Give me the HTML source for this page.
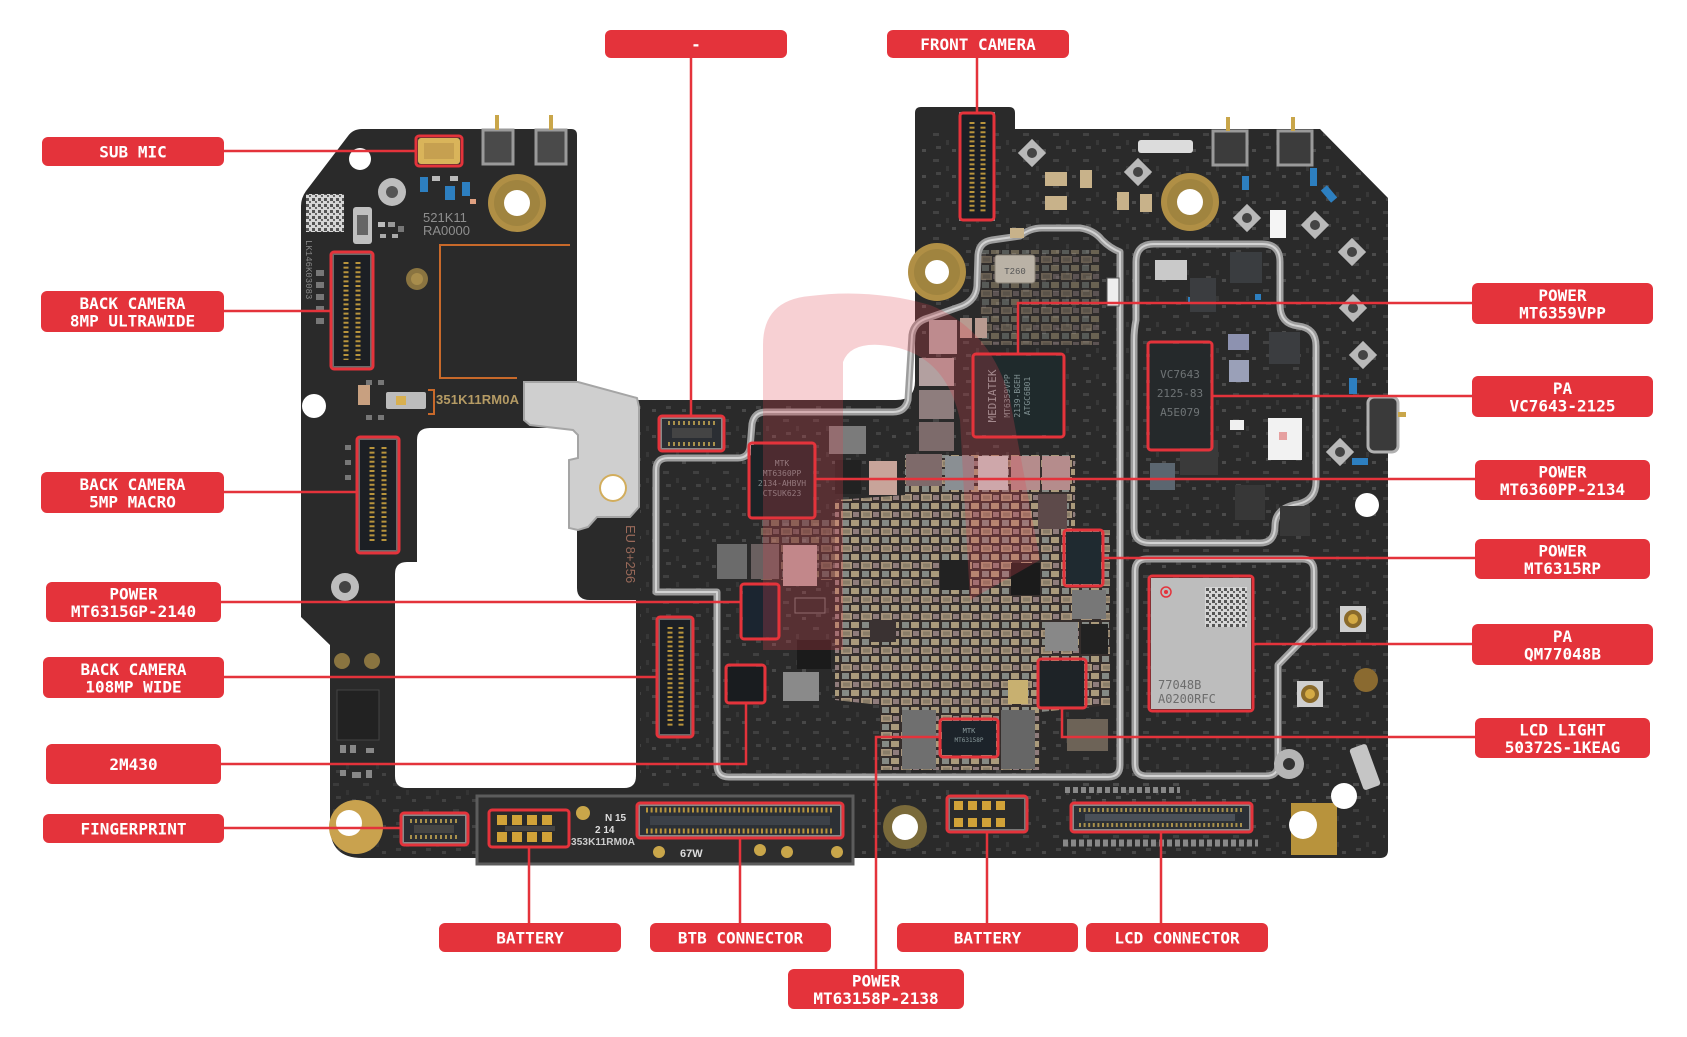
<!DOCTYPE html>
<html><head><meta charset="utf-8"><style>
html,body{margin:0;padding:0;background:#fff;}
svg{display:block;}
.lb{fill:#e4333b;}
.lt{font-family:"DejaVu Sans Mono","Liberation Mono",monospace;font-weight:bold;font-size:16px;fill:#fff;text-anchor:middle;}
.ln{stroke:#e4333b;stroke-width:2.5;fill:none;}
.bx{stroke:#e4333b;stroke-width:3;fill:none;}
.sh{fill:none;stroke:#9d9d9d;stroke-width:7;stroke-linejoin:round;}
.sh2{fill:none;stroke:#d2d2d2;stroke-width:2;stroke-linejoin:round;}
.ct{font-family:"DejaVu Sans Mono","Liberation Mono",monospace;}
</style></head><body>
<svg width="1687" height="1037" viewBox="0 0 1687 1037" xmlns="http://www.w3.org/2000/svg">
<defs>
<clipPath id="bc"><path d="M362 129 L571 129 Q577 129 577 135 L577 400 L896 400 Q915 400 915 381 L915 113 Q915 107 921 107 L1009 107 Q1015 107 1015 113 L1015 129 L1320 129 L1388 198 L1388 850 Q1388 858 1380 858 L853 858 L853 864 L476 864 L476 858 L362 858 Q330 858 330 826 L330 645 L301 617 L301 206 Q301 198 306 191 L348 136 Q353 129 362 129 Z"/></clipPath>
<pattern id="tx" patternUnits="userSpaceOnUse" width="30" height="26">
<rect x="3" y="3" width="6" height="3" fill="#555"/><rect x="16" y="10" width="3" height="5" fill="#444"/><rect x="6" y="16" width="5" height="3" fill="#5a5a5a"/><rect x="22" y="19" width="4" height="3" fill="#666"/>
</pattern>
<pattern id="ps" patternUnits="userSpaceOnUse" width="20" height="17">
<rect width="20" height="17" fill="#362e2c"/><rect x="1" y="1" width="11" height="7" fill="#b5a084"/><rect x="3" y="2.5" width="7" height="4" fill="#948670"/><rect x="13" y="2" width="6" height="5" fill="#9a8585"/><rect x="2" y="10" width="7" height="6" fill="#8f948e"/><rect x="11" y="10" width="8" height="6" fill="#b8a684"/>
</pattern>
<pattern id="qr" patternUnits="userSpaceOnUse" width="6" height="6">
<rect width="6" height="6" fill="#d6d6d6"/><rect x="0" y="0" width="3" height="3" fill="#555"/><rect x="3" y="3" width="2" height="2" fill="#666"/>
</pattern>
</defs>
<rect width="1687" height="1037" fill="#fff"/>

<!-- BOARD -->
<path d="M362 129 L571 129 Q577 129 577 135 L577 400 L896 400 Q915 400 915 381 L915 113 Q915 107 921 107 L1009 107 Q1015 107 1015 113 L1015 129 L1320 129 L1388 198 L1388 850 Q1388 858 1380 858 L853 858 L853 864 L476 864 L476 858 L362 858 Q330 858 330 826 L330 645 L301 617 L301 206 Q301 198 306 191 L348 136 Q353 129 362 129 Z" fill="#2a2a2a"/>

<g clip-path="url(#bc)">
<rect x="920" y="130" width="468" height="670" fill="url(#tx)" opacity="0.55"/>
<rect x="640" y="405" width="280" height="385" fill="url(#tx)" opacity="0.5"/>
<rect x="300" y="760" width="180" height="95" fill="url(#tx)" opacity="0.4"/>
<rect x="860" y="780" width="525" height="75" fill="url(#tx)" opacity="0.5"/>
</g>

<!-- right notch metal -->
<rect x="1368" y="397" width="30" height="55" rx="6" fill="#3a3a3a" stroke="#b0b0b0" stroke-width="3"/>
<rect x="1398" y="412" width="8" height="5" fill="#c9a64a"/>

<!-- cutout -->
<path d="M430 428 L577 428 L577 588 Q577 600 590 600 L636 600 L636 776 Q636 788 624 788 L407 788 Q395 788 395 776 L395 574 Q395 562 407 562 L417 562 L417 440 Q417 428 430 428 Z" fill="#fff"/>

<!-- dense passives -->
<path d="M835 500 L905 495 L905 455 L1075 455 L1075 530 L1110 530 L1110 705 L1040 712 L1040 770 L880 770 L880 705 L835 700 Z" fill="url(#ps)" opacity="0.9"/>
<rect x="980" y="250" width="120" height="95" fill="url(#ps)" opacity="0.45"/>
<rect x="760" y="520" width="80" height="60" fill="url(#ps)" opacity="0.5"/>

<!-- shield frames -->
<path class="sh" d="M656 592 L656 470 Q656 458 668 458 L738 458 Q748 458 750 448 L752 424 Q754 412 766 412 L893 412 Q905 412 908 400 L912 335 Q914 322 928 318 L962 306 Q976 300 977 286 L978 255 Q979 242 992 240 L1020 236 Q1030 228 1042 228 L1080 228 Q1094 230 1102 240 Q1110 248 1120 252 L1120 765 Q1120 777 1108 777 L729 777 Q717 777 717 765 L717 592 Z"/>
<path class="sh2" d="M656 592 L656 470 Q656 458 668 458 L738 458 Q748 458 750 448 L752 424 Q754 412 766 412 L893 412 Q905 412 908 400 L912 335 Q914 322 928 318 L962 306 Q976 300 977 286 L978 255 Q979 242 992 240 L1020 236 Q1030 228 1042 228 L1080 228 Q1094 230 1102 240 Q1110 248 1120 252 L1120 765 Q1120 777 1108 777 L729 777 Q717 777 717 765 L717 592 Z"/>
<path class="sh" d="M1136 262 Q1136 244 1154 244 L1262 244 Q1280 244 1280 262 L1280 305 Q1280 324 1298 326 Q1316 328 1316 346 L1316 482 Q1316 500 1298 504 Q1275 508 1275 526 Q1275 543 1260 543 L1150 543 Q1134 543 1134 528 L1134 340 Q1134 330 1136 320 Z"/>
<path class="sh2" d="M1136 262 Q1136 244 1154 244 L1262 244 Q1280 244 1280 262 L1280 305 Q1280 324 1298 326 Q1316 328 1316 346 L1316 482 Q1316 500 1298 504 Q1275 508 1275 526 Q1275 543 1260 543 L1150 543 Q1134 543 1134 528 L1134 340 Q1134 330 1136 320 Z"/>
<path class="sh" d="M1135 571 Q1135 559 1147 559 L1302 559 Q1314 559 1314 571 L1314 628 L1278 665 L1278 764 Q1278 776 1266 776 L1147 776 Q1135 776 1135 764 Z"/>
<path class="sh2" d="M1135 571 Q1135 559 1147 559 L1302 559 Q1314 559 1314 571 L1314 628 L1278 665 L1278 764 Q1278 776 1266 776 L1147 776 Q1135 776 1135 764 Z"/>

<!-- metal bracket -->
<path d="M524 382 L578 382 L637 398 L639 407 L639 507 L630 517 L597 517 L588 527 L578 530 L569 528 L569 460 L578 458 L578 435 L573 430 L530 425 L524 420 Z" fill="#cfcfcf" stroke="#a5a5a5" stroke-width="2"/>
<circle cx="613" cy="488" r="14" fill="#d2ad5c"/><circle cx="613" cy="488" r="12" fill="#fff"/>

<!-- LEFT PART details -->
<rect x="483" y="130" width="30" height="34" fill="#4a4a4a" stroke="#9a9a9a" stroke-width="3"/>
<rect x="536" y="130" width="30" height="34" fill="#4a4a4a" stroke="#9a9a9a" stroke-width="3"/>
<rect x="495" y="115" width="4" height="15" fill="#c9a64a"/><rect x="549" y="115" width="4" height="15" fill="#c9a64a"/>
<circle cx="360" cy="159" r="11" fill="#fff"/>
<rect x="418" y="138" width="42" height="26" rx="3" fill="#d9b45a"/><rect x="424" y="143" width="30" height="16" fill="#c6a050"/>
<circle cx="392" cy="192" r="14" fill="#bdbdbd"/><circle cx="392" cy="192" r="6" fill="#555"/>
<rect x="420" y="177" width="8" height="15" fill="#2d7fc0"/><rect x="445" y="186" width="10" height="14" fill="#2d7fc0"/><rect x="462" y="182" width="8" height="14" fill="#2d7fc0"/>
<rect x="432" y="176" width="8" height="5" fill="#bbb"/><rect x="450" y="176" width="8" height="5" fill="#bbb"/><rect x="470" y="199" width="6" height="5" fill="#e0a080"/>
<rect x="306" y="194" width="38" height="38" fill="url(#qr)"/>
<rect x="353" y="207" width="19" height="37" rx="3" fill="#c0c0c0"/><rect x="357" y="215" width="11" height="20" fill="#666"/>
<rect x="378" y="222" width="7" height="5" fill="#bbb"/><rect x="388" y="222" width="7" height="5" fill="#999"/><rect x="398" y="226" width="6" height="6" fill="#777"/><rect x="380" y="234" width="6" height="4" fill="#aaa"/><rect x="392" y="234" width="6" height="4" fill="#aaa"/>
<text x="423" y="222" font-family="Liberation Sans,sans-serif" font-size="13" fill="#8e8e8e">521K11</text>
<text x="423" y="235" font-family="Liberation Sans,sans-serif" font-size="13" fill="#8e8e8e">RA0000</text>
<text transform="translate(306,240) rotate(90)" font-family="Liberation Mono,monospace" font-size="9" fill="#888">LK146K03083</text>
<circle cx="517" cy="203" r="29" fill="#b08f45"/><circle cx="517" cy="203" r="23" fill="#a0843f"/><circle cx="517" cy="203" r="13" fill="#fff"/>
<circle cx="417" cy="279" r="11" fill="#8a7440"/><circle cx="417" cy="279" r="6" fill="#a88d4c"/>
<polyline points="570,245 440,245 440,378 517,378" fill="none" stroke="#c8692a" stroke-width="2"/>
<polyline points="428,390 434,390 434,414 428,414" fill="none" stroke="#c8692a" stroke-width="2"/>
<g fill="#777"><rect x="316" y="270" width="8" height="6"/><rect x="316" y="282" width="8" height="6"/><rect x="316" y="294" width="8" height="6"/><rect x="316" y="306" width="8" height="6"/><rect x="316" y="318" width="8" height="6"/><rect x="378" y="380" width="6" height="5"/><rect x="366" y="380" width="6" height="5"/><rect x="366" y="415" width="6" height="5"/><rect x="378" y="415" width="6" height="5"/><rect x="345" y="445" width="6" height="5"/><rect x="345" y="460" width="6" height="5"/><rect x="345" y="475" width="6" height="5"/></g>
<rect x="358" y="385" width="12" height="20" fill="#c8a080"/>
<circle cx="314" cy="406" r="12" fill="#fff"/>
<rect x="386" y="392" width="40" height="17" rx="2" fill="#bcbcbc"/><rect x="396" y="396" width="10" height="9" fill="#d8b050"/>
<text x="436" y="404" font-family="Liberation Sans,sans-serif" font-weight="bold" font-size="13" fill="#b59b64" textLength="83">351K11RM0A</text>
<!-- connectors left -->
<rect x="333" y="254" width="38" height="113" fill="#1c1f24" stroke="#6a6a6a" stroke-width="2"/>
<line x1="346" y1="262" x2="346" y2="360" stroke="#b8943c" stroke-width="5" stroke-dasharray="2 2.6"/>
<line x1="358" y1="262" x2="358" y2="360" stroke="#b8943c" stroke-width="5" stroke-dasharray="2 2.6"/>
<rect x="359" y="439" width="38" height="112" fill="#1c1f24" stroke="#6a6a6a" stroke-width="2"/>
<line x1="372" y1="447" x2="372" y2="542" stroke="#b8943c" stroke-width="5" stroke-dasharray="2 2.6"/>
<line x1="384" y1="447" x2="384" y2="542" stroke="#b8943c" stroke-width="5" stroke-dasharray="2 2.6"/>
<circle cx="345" cy="587" r="14" fill="#bdbdbd"/><circle cx="345" cy="587" r="6" fill="#444"/>
<circle cx="342" cy="661" r="8" fill="#8a7440"/><circle cx="372" cy="661" r="8" fill="#8a7440"/>
<rect x="337" y="690" width="42" height="50" fill="#222" stroke="#444"/>
<g fill="#888"><rect x="340" y="745" width="6" height="8"/><rect x="350" y="745" width="6" height="8"/><rect x="366" y="748" width="8" height="5"/><rect x="340" y="770" width="6" height="6"/><rect x="352" y="772" width="9" height="6"/><rect x="366" y="770" width="6" height="8"/></g>
<circle cx="356" cy="827" r="27" fill="#c9a24e"/><circle cx="349" cy="823" r="13" fill="#fff"/>
<rect x="403" y="815" width="63" height="28" fill="#2b2e33" stroke="#888" stroke-width="2"/>
<line x1="410" y1="821" x2="460" y2="821" stroke="#a8904c" stroke-width="4" stroke-dasharray="2 3"/>
<line x1="410" y1="837" x2="460" y2="837" stroke="#a8904c" stroke-width="4" stroke-dasharray="2 3"/>
<rect x="414" y="825" width="40" height="8" fill="#444"/>

<!-- bottom strip -->
<rect x="477" y="796" width="376" height="68" fill="#2d2d2d" stroke="#5c5c5c" stroke-width="3"/>
<rect x="490" y="811" width="78" height="35" fill="#2a2a2a"/>
<g fill="#d1a238"><rect x="497" y="815" width="10" height="10"/><rect x="512" y="815" width="10" height="10"/><rect x="527" y="815" width="10" height="10"/><rect x="542" y="815" width="10" height="10"/><rect x="497" y="832" width="10" height="10"/><rect x="512" y="832" width="10" height="10"/><rect x="527" y="832" width="10" height="10"/><rect x="542" y="832" width="10" height="10"/></g>
<rect x="505" y="826" width="50" height="5" fill="#444"/>
<circle cx="583" cy="813" r="7" fill="#c9a64a"/>
<text x="605" y="821" font-family="Liberation Sans,sans-serif" font-weight="bold" font-size="10" fill="#ddd">N 15</text>
<text x="595" y="833" font-family="Liberation Sans,sans-serif" font-weight="bold" font-size="10" fill="#ddd">2 14</text>
<text x="571" y="845" font-family="Liberation Sans,sans-serif" font-weight="bold" font-size="10" fill="#ccc" textLength="64">353K11RM0A</text>
<rect x="639" y="805" width="202" height="31" fill="#2c3035" stroke="#888" stroke-width="2"/>
<line x1="646" y1="810" x2="834" y2="810" stroke="#b8943c" stroke-width="5" stroke-dasharray="2 2.6"/>
<line x1="646" y1="831" x2="834" y2="831" stroke="#b8943c" stroke-width="5" stroke-dasharray="2 2.6"/>
<rect x="650" y="816" width="180" height="9" fill="#3c4148"/>
<circle cx="659" cy="852" r="6" fill="#c9a64a"/><circle cx="760" cy="850" r="6" fill="#c9a64a"/><circle cx="787" cy="852" r="6" fill="#c9a64a"/><circle cx="837" cy="852" r="6" fill="#c9a64a"/>
<text x="680" y="857" font-family="Liberation Sans,sans-serif" font-weight="bold" font-size="11" fill="#ddd">67W</text>

<!-- right bottom -->
<circle cx="905" cy="827" r="22" fill="#7a6a3a"/><circle cx="905" cy="827" r="13" fill="#fff"/>
<rect x="949" y="798" width="76" height="32" fill="#2b2b2b" stroke="#777" stroke-width="2"/>
<g fill="#d1a238"><rect x="954" y="801" width="9" height="9"/><rect x="968" y="801" width="9" height="9"/><rect x="982" y="801" width="9" height="9"/><rect x="996" y="801" width="9" height="9"/><rect x="954" y="818" width="9" height="9"/><rect x="968" y="818" width="9" height="9"/><rect x="982" y="818" width="9" height="9"/><rect x="996" y="818" width="9" height="9"/></g>
<rect x="1073" y="805" width="177" height="25" fill="#2c3035" stroke="#888" stroke-width="2"/>
<line x1="1079" y1="810" x2="1244" y2="810" stroke="#a8904c" stroke-width="4" stroke-dasharray="2 2.6"/>
<line x1="1079" y1="825" x2="1244" y2="825" stroke="#a8904c" stroke-width="4" stroke-dasharray="2 2.6"/>
<rect x="1085" y="814" width="150" height="7" fill="#4a5058"/>
<line x1="1063" y1="843" x2="1258" y2="843" stroke="#888" stroke-width="7" stroke-dasharray="5 3"/>
<line x1="1065" y1="790" x2="1180" y2="790" stroke="#888" stroke-width="6" stroke-dasharray="5 3"/>
<rect x="1291" y="803" width="46" height="52" fill="#b8933c"/><circle cx="1303" cy="825" r="14" fill="#fff"/>
<circle cx="1344" cy="796" r="13" fill="#fff"/>
<circle cx="1289" cy="764" r="15" fill="#b5b5b5"/><circle cx="1289" cy="764" r="6" fill="#333"/>
<rect x="1356" y="745" width="18" height="44" rx="3" fill="#c5c5c5" transform="rotate(-20 1365 767)"/>
<rect x="1340" y="606" width="26" height="26" fill="#cfcfcf"/><circle cx="1353" cy="619" r="9" fill="#8a6a2a"/><circle cx="1353" cy="619" r="5" fill="#d4aa44"/>
<rect x="1297" y="681" width="26" height="26" fill="#cfcfcf"/><circle cx="1310" cy="694" r="9" fill="#8a6a2a"/><circle cx="1310" cy="694" r="5" fill="#d4aa44"/>
<circle cx="1366" cy="680" r="12" fill="#8a6a30"/>
<circle cx="1367" cy="505" r="12" fill="#fff"/>

<!-- right top -->
<rect x="960" y="113" width="34" height="107" fill="#1c1f24" stroke="#8a8a8a" stroke-width="2"/>
<line x1="972" y1="122" x2="972" y2="212" stroke="#b8943c" stroke-width="5" stroke-dasharray="2 2.6"/>
<line x1="983" y1="122" x2="983" y2="212" stroke="#b8943c" stroke-width="5" stroke-dasharray="2 2.6"/>
<circle cx="937" cy="272" r="29" fill="#b08f45"/><circle cx="937" cy="272" r="23" fill="#a0843f"/><circle cx="937" cy="272" r="12" fill="#fff"/>
<circle cx="1190" cy="202" r="29" fill="#b08f45"/><circle cx="1190" cy="202" r="23" fill="#a0843f"/><circle cx="1190" cy="202" r="13" fill="#fff"/>
<rect x="1138" y="140" width="55" height="13" rx="3" fill="#dcdcdc"/>
<rect x="1213" y="131" width="34" height="34" fill="#3c3c3c" stroke="#9a9a9a" stroke-width="3"/>
<rect x="1278" y="131" width="34" height="34" fill="#3c3c3c" stroke="#9a9a9a" stroke-width="3"/>
<rect x="1226" y="117" width="4" height="14" fill="#c9a64a"/><rect x="1291" y="117" width="4" height="14" fill="#c9a64a"/>
<g fill="#b9b9b9"><rect x="1022" y="143" width="20" height="20" transform="rotate(45 1032 153)"/><rect x="1128" y="162" width="20" height="20" transform="rotate(45 1138 172)"/><rect x="1237" y="208" width="20" height="20" transform="rotate(45 1247 218)"/><rect x="1305" y="215" width="20" height="20" transform="rotate(45 1315 225)"/><rect x="1342" y="242" width="20" height="20" transform="rotate(45 1352 252)"/><rect x="1343" y="298" width="20" height="20" transform="rotate(45 1353 308)"/><rect x="1353" y="345" width="20" height="20" transform="rotate(45 1363 355)"/><rect x="1330" y="442" width="20" height="20" transform="rotate(45 1340 452)"/></g>
<g fill="#444"><circle cx="1032" cy="153" r="5"/><circle cx="1138" cy="172" r="5"/><circle cx="1247" cy="218" r="5"/><circle cx="1315" cy="225" r="5"/><circle cx="1352" cy="252" r="5"/><circle cx="1353" cy="308" r="5"/><circle cx="1363" cy="355" r="5"/><circle cx="1340" cy="452" r="5"/></g>
<g fill="#c8b28a"><rect x="1045" y="172" width="22" height="14"/><rect x="1045" y="196" width="22" height="14"/><rect x="1080" y="170" width="12" height="18"/><rect x="1117" y="192" width="12" height="18"/><rect x="1140" y="194" width="12" height="18"/><rect x="1010" y="228" width="14" height="10"/></g>
<g fill="#2d7fc0"><rect x="1310" y="168" width="7" height="18"/><rect x="1242" y="176" width="7" height="14"/><rect x="1325" y="186" width="8" height="16" transform="rotate(-40 1329 194)"/><rect x="1349" y="378" width="8" height="16"/><rect x="1352" y="458" width="16" height="7"/><rect x="1255" y="294" width="6" height="6"/><rect x="1188" y="297" width="6" height="6"/></g>
<rect x="995" y="255" width="40" height="28" rx="3" fill="#bab2a6" stroke="#8a8276"/>
<text x="1015" y="274" font-family="Liberation Mono,monospace" font-size="9" fill="#555" text-anchor="middle">T260</text>
<rect x="1107" y="278" width="12" height="28" fill="#eee" stroke="#555"/>
<rect x="1155" y="260" width="32" height="20" fill="#c9c9c9"/>
<rect x="1190" y="278" width="26" height="34" fill="#3b3d40"/><rect x="1230" y="252" width="32" height="31" fill="#3a3d40"/>
<rect x="1269" y="332" width="31" height="32" fill="#3b3d40"/>
<rect x="1228" y="334" width="21" height="16" fill="#8d92b0"/><rect x="1229" y="360" width="20" height="22" fill="#9aa0b8"/>
<rect x="1268" y="418" width="34" height="42" fill="#f2f2f2"/><rect x="1279" y="432" width="8" height="8" fill="#e6a0a0"/>
<rect x="1180" y="440" width="38" height="35" fill="#3a3a3a"/><rect x="1150" y="463" width="25" height="27" fill="#5b6670"/>
<rect x="1235" y="485" width="30" height="35" fill="#373737"/><rect x="1280" y="506" width="30" height="30" fill="#373737"/>
<rect x="1230" y="420" width="14" height="10" fill="#f0f0f0"/>
<rect x="1270" y="210" width="16" height="28" fill="#f5f5f5"/>

<!-- center chips/inductors -->
<g>
<rect x="929" y="320" width="28" height="34" fill="#b3a3a3"/>
<rect x="919" y="358" width="35" height="28" fill="#b3a0a0"/>
<rect x="919" y="390" width="35" height="29" fill="#8e7d7d"/>
<rect x="919" y="422" width="35" height="29" fill="#7d6b6b"/>
<rect x="960" y="318" width="12" height="20" fill="#b89a90"/><rect x="975" y="318" width="12" height="20" fill="#b89a90"/>
<rect x="906" y="454" width="36" height="32" fill="#7e6a6a"/>
<rect x="945" y="456" width="29" height="34" fill="#8a8f93"/>
<rect x="978" y="456" width="30" height="34" fill="#c9c9c9"/>
<rect x="1011" y="456" width="29" height="34" fill="#b58c8c"/>
<rect x="1042" y="456" width="28" height="34" fill="#b58c8c"/>
<rect x="1038" y="494" width="29" height="35" fill="#5d4a4a"/>
<rect x="829" y="426" width="37" height="28" fill="#7b7b7b"/>
<rect x="835" y="460" width="26" height="34" fill="#222"/>
<rect x="869" y="461" width="28" height="34" fill="#c8a49a"/>
<rect x="717" y="544" width="30" height="35" fill="#6b6b6b"/>
<rect x="751" y="544" width="28" height="35" fill="#6a6060"/>
<rect x="783" y="545" width="34" height="41" fill="#b99e9e"/>
<rect x="797" y="640" width="34" height="29" fill="#1b1b1b"/>
<rect x="783" y="672" width="36" height="29" fill="#8a8a8a"/>
<rect x="795" y="598" width="30" height="15" fill="#2a2a2a" stroke="#777"/>
<rect x="1011" y="563" width="29" height="32" fill="#1b1b1b"/>
<rect x="1072" y="590" width="34" height="29" fill="#777"/>
<rect x="1045" y="622" width="33" height="29" fill="#888"/>
<rect x="1081" y="624" width="27" height="30" fill="#222"/>
<rect x="1067" y="719" width="41" height="32" fill="#6d6357"/>
<rect x="902" y="710" width="34" height="26" fill="#6f6f6f"/>
<rect x="902" y="738" width="34" height="31" fill="#6f6f6f"/>
<rect x="1001" y="710" width="34" height="30" fill="#666"/>
<rect x="1001" y="740" width="34" height="29" fill="#666"/>
<rect x="1008" y="680" width="20" height="24" fill="#c8b070"/>
<rect x="940" y="560" width="30" height="30" fill="#222"/>
<rect x="870" y="620" width="26" height="22" fill="#3a3232"/>
</g>

<!-- chips in red boxes -->
<rect x="975" y="356" width="87" height="79" fill="#1f2a2c"/>
<text transform="translate(996,396) rotate(-90)" class="ct" font-size="11" fill="#8fa0a2" text-anchor="middle">MEDIATEK</text>
<text transform="translate(1010,396) rotate(-90)" class="ct" font-size="8" fill="#7f9092" text-anchor="middle">MT6359VPP</text>
<text transform="translate(1020,396) rotate(-90)" class="ct" font-size="8" fill="#7f9092" text-anchor="middle">2139-BGEH</text>
<text transform="translate(1030,396) rotate(-90)" class="ct" font-size="8" fill="#7f9092" text-anchor="middle">ATGC6B01</text>
<rect x="1150" y="344" width="60" height="104" fill="#25292b"/>
<text x="1180" y="378" class="ct" font-size="11" fill="#6f7476" text-anchor="middle">VC7643</text>
<text x="1180" y="397" class="ct" font-size="11" fill="#6f7476" text-anchor="middle">2125-83</text>
<text x="1180" y="416" class="ct" font-size="11" fill="#6f7476" text-anchor="middle">A5E079</text>
<rect x="751" y="445" width="62" height="71" fill="#1c2326"/>
<text x="782" y="466" class="ct" font-size="8" fill="#7c8a8c" text-anchor="middle">MTK</text>
<text x="782" y="476" class="ct" font-size="8" fill="#7c8a8c" text-anchor="middle">MT6360PP</text>
<text x="782" y="486" class="ct" font-size="8" fill="#7c8a8c" text-anchor="middle">2134-AHBVH</text>
<text x="782" y="496" class="ct" font-size="8" fill="#7c8a8c" text-anchor="middle">CTSUK623</text>
<rect x="1066" y="532" width="35" height="52" fill="#1f2a30"/>
<rect x="1151" y="578" width="100" height="131" fill="#bdbdbd"/>
<rect x="1205" y="587" width="42" height="40" fill="url(#qr)"/>
<circle cx="1166" cy="592" r="5" fill="none" stroke="#e4333b" stroke-width="1.5"/><circle cx="1166" cy="592" r="2" fill="#e4333b"/>
<text x="1158" y="689" class="ct" font-size="12" fill="#6c6c6c">77048B</text>
<text x="1158" y="703" class="ct" font-size="12" fill="#6c6c6c">A0200RFC</text>
<rect x="1040" y="661" width="44" height="45" fill="#1e2327"/>
<rect x="942" y="721" width="54" height="34" fill="#1c232a"/>
<text x="969" y="733" class="ct" font-size="7" fill="#8a9a9c" text-anchor="middle">MTK</text>
<text x="969" y="742" class="ct" font-size="6" fill="#8a9a9c" text-anchor="middle">MT63158P</text>
<rect x="743" y="586" width="34" height="51" fill="#1b2530"/>
<rect x="728" y="667" width="35" height="34" fill="#191c1f"/>
<rect x="659" y="619" width="32" height="116" fill="#1c1f24" stroke="#6a6a6a" stroke-width="2"/>
<line x1="670" y1="627" x2="670" y2="727" stroke="#b8943c" stroke-width="5" stroke-dasharray="2 2.6"/>
<line x1="681" y1="627" x2="681" y2="727" stroke="#b8943c" stroke-width="5" stroke-dasharray="2 2.6"/>
<rect x="661" y="418" width="61" height="31" fill="#2b2e33" stroke="#888" stroke-width="2"/>
<line x1="668" y1="423" x2="715" y2="423" stroke="#a8904c" stroke-width="4" stroke-dasharray="2 3"/>
<line x1="668" y1="444" x2="715" y2="444" stroke="#a8904c" stroke-width="4" stroke-dasharray="2 3"/>
<rect x="672" y="428" width="40" height="10" fill="#444"/>
<text transform="translate(626,525) rotate(90)" font-family="Liberation Sans,sans-serif" font-size="13" fill="#9a6a5a">EU 8+256</text>

<!-- watermark -->
<path d="M763 650 L763 345 Q763 300 810 296 Q870 288 930 305 Q992 330 1010 400 L1040 560 L970 600 L960 420 Q945 350 880 345 Q850 343 843 362 L843 650 Z" fill="#e0434f" opacity="0.25"/>

<!-- red boxes -->
<g class="bx">
<rect x="416" y="136" width="46" height="30" rx="3"/>
<rect x="331" y="252" width="42" height="117" rx="3"/>
<rect x="357" y="437" width="42" height="116" rx="3"/>
<rect x="741" y="584" width="38" height="55" rx="3"/>
<rect x="657" y="617" width="36" height="120" rx="3"/>
<rect x="726" y="665" width="39" height="38" rx="3"/>
<rect x="401" y="813" width="67" height="32" rx="3"/>
<rect x="659" y="416" width="65" height="35" rx="3"/>
<rect x="960" y="113" width="34" height="107" rx="3"/>
<rect x="973" y="354" width="91" height="83" rx="3"/>
<rect x="1148" y="342" width="64" height="108" rx="3"/>
<rect x="749" y="443" width="66" height="75" rx="3"/>
<rect x="1064" y="530" width="39" height="56" rx="3"/>
<rect x="1149" y="576" width="104" height="135" rx="3"/>
<rect x="1038" y="659" width="48" height="49" rx="3"/>
<rect x="940" y="719" width="58" height="38" rx="3"/>
<rect x="489" y="810" width="80" height="37" rx="3"/>
<rect x="637" y="803" width="206" height="35" rx="3"/>
<rect x="947" y="796" width="80" height="36" rx="3"/>
<rect x="1071" y="803" width="181" height="29" rx="3"/>
</g>

<!-- connector lines -->
<g class="ln">
<polyline points="224,151 416,151"/>
<polyline points="223,311 331,311"/>
<polyline points="223,492 357,492"/>
<polyline points="221,602 741,602"/>
<polyline points="224,677 657,677"/>
<polyline points="221,764 746,764 746,703"/>
<polyline points="224,828 401,828"/>
<polyline points="691,58 691,416"/>
<polyline points="977,58 977,113"/>
<polyline points="1472,303 1018,303 1018,354"/>
<polyline points="1212,396 1472,396"/>
<polyline points="815,479 1475,479"/>
<polyline points="1103,558 1475,558"/>
<polyline points="1253,644 1472,644"/>
<polyline points="1062,708 1062,737 1475,737"/>
<polyline points="529,847 529,923"/>
<polyline points="740,838 740,923"/>
<polyline points="987,832 987,923"/>
<polyline points="1161,832 1161,923"/>
<polyline points="876,969 876,737 940,737"/>
</g>

<!-- labels -->
<g>
<rect class="lb" x="42" y="137" width="182" height="29" rx="6"/><text class="lt" x="133" y="157.5">SUB MIC</text>
<rect class="lb" x="41" y="291" width="183" height="41" rx="6"/><text class="lt" x="132.5" y="309">BACK CAMERA</text><text class="lt" x="132.5" y="326.5">8MP ULTRAWIDE</text>
<rect class="lb" x="41" y="472" width="183" height="41" rx="6"/><text class="lt" x="132.5" y="490">BACK CAMERA</text><text class="lt" x="132.5" y="507.5">5MP MACRO</text>
<rect class="lb" x="46" y="582" width="175" height="40" rx="6"/><text class="lt" x="133.5" y="599.5">POWER</text><text class="lt" x="133.5" y="617">MT6315GP-2140</text>
<rect class="lb" x="43" y="657" width="181" height="41" rx="6"/><text class="lt" x="133.5" y="675">BACK CAMERA</text><text class="lt" x="133.5" y="692.5">108MP WIDE</text>
<rect class="lb" x="46" y="744" width="175" height="40" rx="6"/><text class="lt" x="133.5" y="770">2M430</text>
<rect class="lb" x="43" y="814" width="181" height="29" rx="6"/><text class="lt" x="133.5" y="834.5">FINGERPRINT</text>

<rect class="lb" x="605" y="30" width="182" height="28" rx="6"/><text class="lt" x="696" y="50">-</text>
<rect class="lb" x="887" y="30" width="182" height="28" rx="6"/><text class="lt" x="978" y="50">FRONT CAMERA</text>

<rect class="lb" x="1472" y="283" width="181" height="41" rx="6"/><text class="lt" x="1562.5" y="301">POWER</text><text class="lt" x="1562.5" y="318.5">MT6359VPP</text>
<rect class="lb" x="1472" y="376" width="181" height="41" rx="6"/><text class="lt" x="1562.5" y="394">PA</text><text class="lt" x="1562.5" y="411.5">VC7643-2125</text>
<rect class="lb" x="1475" y="460" width="175" height="40" rx="6"/><text class="lt" x="1562.5" y="477.5">POWER</text><text class="lt" x="1562.5" y="495">MT6360PP-2134</text>
<rect class="lb" x="1475" y="539" width="175" height="40" rx="6"/><text class="lt" x="1562.5" y="556.5">POWER</text><text class="lt" x="1562.5" y="574">MT6315RP</text>
<rect class="lb" x="1472" y="624" width="181" height="41" rx="6"/><text class="lt" x="1562.5" y="642">PA</text><text class="lt" x="1562.5" y="659.5">QM77048B</text>
<rect class="lb" x="1475" y="718" width="175" height="40" rx="6"/><text class="lt" x="1562.5" y="735.5">LCD LIGHT</text><text class="lt" x="1562.5" y="753">50372S-1KEAG</text>

<rect class="lb" x="439" y="923" width="182" height="29" rx="6"/><text class="lt" x="530" y="943.5">BATTERY</text>
<rect class="lb" x="650" y="923" width="181" height="29" rx="6"/><text class="lt" x="740.5" y="943.5">BTB CONNECTOR</text>
<rect class="lb" x="897" y="923" width="181" height="29" rx="6"/><text class="lt" x="987.5" y="943.5">BATTERY</text>
<rect class="lb" x="1086" y="923" width="182" height="29" rx="6"/><text class="lt" x="1177" y="943.5">LCD CONNECTOR</text>
<rect class="lb" x="788" y="969" width="176" height="40" rx="6"/><text class="lt" x="876" y="986.5">POWER</text><text class="lt" x="876" y="1004">MT63158P-2138</text>
</g>
</svg>
</body></html>
